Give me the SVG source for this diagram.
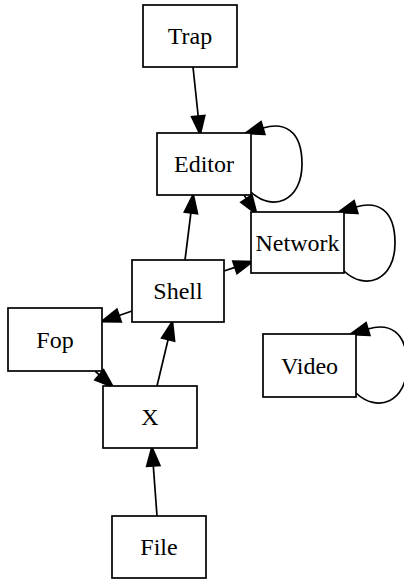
<svg xmlns="http://www.w3.org/2000/svg" width="404" height="581" viewBox="0 0 404 581">
<style>
.node rect{fill:#fff;stroke:#000;stroke-width:1.7}
.node text{font-family:"Liberation Serif","Times New Roman",serif;font-size:24px;text-anchor:middle;fill:#000}
.edges path{fill:none;stroke:#000;stroke-width:1.7}
</style>
<defs>
<marker id="ah" markerUnits="userSpaceOnUse" markerWidth="20" markerHeight="14" refX="0" refY="6" orient="auto" viewBox="0 0 18 12" overflow="visible">
<path d="M0,0 L17,6 L0,12 z" fill="#000" stroke="#000" stroke-width="1.5"/>
</marker>
</defs>
<rect width="404" height="581" fill="#fff"/>
<g class="edges">
<path d="M193,67 L198.2,116.1" marker-end="url(#ah)"/>
<path d="M185,260 L190.9,212.9" marker-end="url(#ah)"/>
<path d="M244,195 L246.4,198.6" marker-end="url(#ah)"/>
<path d="M224,271 L234.9,267.4" marker-end="url(#ah)"/>
<path d="M132,311 L119.1,315.5" marker-end="url(#ah)"/>
<path d="M157,386 L168.1,339.5" marker-end="url(#ah)"/>
<path d="M95,371 L99.3,374.8" marker-end="url(#ah)"/>
<path d="M157,516 L153.3,465.9" marker-end="url(#ah)"/>
<path d="M251,192 C272,212 302,202 302,164 C302,129 283,122 263,128" marker-end="url(#ah)"/>
<path d="M344,271 C365,291 395,281 395,243 C395,208 376,201 356,207" marker-end="url(#ah)"/>
<path d="M356,393 C377,413 407,403 407,365 C407,330 388,323 368,329" marker-end="url(#ah)"/>
</g>
<g id="Trap" class="node"><rect x="143" y="5" width="94" height="62"/><text x="190" y="44">Trap</text></g>
<g id="Editor" class="node"><rect x="157" y="133" width="94" height="62"/><text x="204" y="172">Editor</text></g>
<g id="Network" class="node"><rect x="251" y="212" width="93" height="61"/><text x="297.5" y="250.5">Network</text></g>
<g id="Shell" class="node"><rect x="132" y="260" width="92" height="62"/><text x="178" y="299">Shell</text></g>
<g id="Fop" class="node"><rect x="8" y="308" width="94" height="63"/><text x="55" y="347.5">Fop</text></g>
<g id="Video" class="node"><rect x="263" y="334" width="93" height="63"/><text x="309.5" y="373.5">Video</text></g>
<g id="X" class="node"><rect x="103" y="386" width="94" height="62"/><text x="150" y="425">X</text></g>
<g id="File" class="node"><rect x="112" y="516" width="94" height="62"/><text x="159" y="555">File</text></g>
</svg>
